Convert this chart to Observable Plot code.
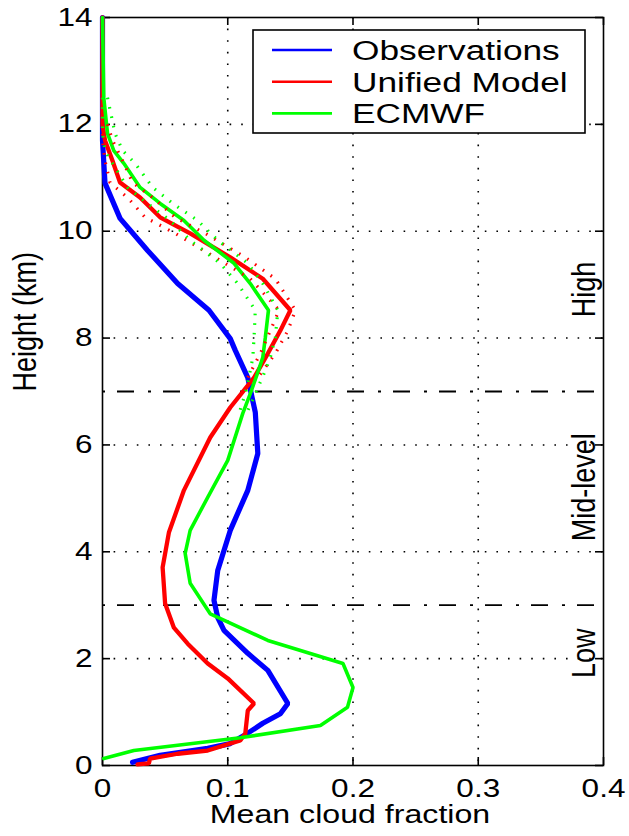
<!DOCTYPE html>
<html>
<head>
<meta charset="utf-8">
<script src="https://cdn.jsdelivr.net/npm/d3@7"></script>
<script src="https://cdn.jsdelivr.net/npm/@observablehq/plot@0.6"></script>
<style>
  html, body { margin: 0; padding: 0; background: #fff; }
  #chart { width: 629px; height: 836px; overflow: hidden; }
</style>
</head>
<body>
<div id="chart"></div>
<script>
// ---------- data ----------
const seriesNames = ["Observations", "Unified Model", "ECMWF"];
const seriesColors = ["#0000ff", "#ff0000", "#00ff00"];

const obsHeight = [14.0, 12.0, 11.7, 10.9, 10.24, 9.64, 9.02, 8.52, 7.99, 7.77, 7.26, 6.61, 5.84, 5.15, 4.40, 3.65, 3.09, 2.77, 2.53, 2.10, 1.78, 1.16, 0.97, 0.79, 0.56, 0.41, 0.32, 0.19, 0.06];
const obsFraction = [0.000, 0.000, 0.000, 0.002, 0.014, 0.036, 0.060, 0.085, 0.102, 0.106, 0.116, 0.122, 0.124, 0.116, 0.102, 0.092, 0.089, 0.092, 0.097, 0.116, 0.132, 0.148, 0.142, 0.128, 0.113, 0.102, 0.084, 0.046, 0.024];

const ukmoHeight = [14.0, 12.0, 11.7, 11.32, 10.91, 10.63, 10.26, 9.96, 9.51, 9.11, 8.52, 8.14, 7.71, 7.26, 6.70, 6.14, 5.15, 4.36, 3.71, 3.03, 2.58, 2.28, 1.91, 1.63, 1.16, 1.03, 0.60, 0.47, 0.28, 0.22, 0.13, 0.04, 0.02];
const ukmoFraction = [0.000, 0.000, 0.002, 0.008, 0.014, 0.030, 0.046, 0.070, 0.102, 0.128, 0.150, 0.142, 0.132, 0.121, 0.102, 0.086, 0.065, 0.053, 0.048, 0.050, 0.057, 0.068, 0.084, 0.100, 0.121, 0.116, 0.114, 0.110, 0.084, 0.060, 0.038, 0.037, 0.028];

const ecmwfHeight = [14.0, 12.5, 11.83, 11.51, 11.27, 10.82, 10.52, 10.20, 9.83, 9.40, 9.02, 8.52, 8.01, 7.64, 7.39, 6.96, 6.59, 5.71, 5.02, 4.40, 3.97, 3.41, 2.84, 2.34, 1.91, 1.46, 1.09, 0.75, 0.52, 0.28, 0.13];
const ecmwfFraction = [0.000, 0.001, 0.004, 0.009, 0.017, 0.030, 0.046, 0.065, 0.081, 0.105, 0.118, 0.1325, 0.130, 0.128, 0.1245, 0.118, 0.112, 0.100, 0.084, 0.070, 0.066, 0.070, 0.086, 0.132, 0.192, 0.200, 0.1956, 0.174, 0.110, 0.025, 0.001];

// uncertainty bounds (dotted) for the two models, upper troposphere
const ukmoErrHeight = [12.0, 11.7, 11.32, 10.91, 10.63, 10.26, 9.96, 9.51, 9.11, 8.52, 8.14, 7.71, 7.26];
const ukmoLow  = [0.000, 0.000, 0.002, 0.006, 0.020, 0.034, 0.058, 0.090, 0.118, 0.141, 0.134, 0.126, 0.116];
const ukmoHigh = [0.004, 0.008, 0.016, 0.024, 0.040, 0.058, 0.082, 0.114, 0.138, 0.154, 0.148, 0.138, 0.124];

const ecmwfErrHeight = [12.5, 11.83, 11.51, 11.27, 10.82, 10.52, 10.20, 9.83, 9.40, 9.02, 8.52, 8.01, 7.64, 7.39, 6.96, 6.59];
const ecmwfLow  = [0.000, 0.000, 0.002, 0.008, 0.020, 0.036, 0.054, 0.070, 0.094, 0.108, 0.122, 0.121, 0.120, 0.118, 0.114, 0.109];
const ecmwfHigh = [0.004, 0.010, 0.016, 0.026, 0.040, 0.056, 0.076, 0.092, 0.116, 0.128, 0.140, 0.138, 0.134, 0.130, 0.122, 0.115];

// layer boundaries and labels
const layerBounds = [3, 7];
const regionLabels = ["High", "Mid-level", "Low"];
const regionHeights = [8.91, 5.21, 2.10];

// ticks
const xTickValues = [0, 0.1, 0.2, 0.3, 0.4];
const xTickLabels = ["0", "0.1", "0.2", "0.3", "0.4"];
const yTickValues = [0, 2, 4, 6, 8, 10, 12, 14];
const yTickLabels = ["0", "2", "4", "6", "8", "10", "12", "14"];
const xGridValues = [0.1, 0.2, 0.3];
const yGridValues = [2, 4, 6, 8, 10, 12];

const xLabel = "Mean cloud fraction";
const yLabel = "Height (km)";

// ---------- layout ----------
const W = 629, H = 836;
const mL = 102, mR = 26, mT = 17, mB = 71;
const innerW = W - mL - mR, innerH = H - mT - mB;
const TICK = 8;
const STRETCH = 1.26;
const FONT = "'Liberation Sans', Arial, Helvetica, sans-serif";

const toRows = (hs, xs) => hs.map((h, i) => ({h, x: xs[i]}));
const obs = toRows(obsHeight, obsFraction);
const ukmo = toRows(ukmoHeight, ukmoFraction);
const ecmwf = toRows(ecmwfHeight, ecmwfFraction);
const ukmoLo = toRows(ukmoErrHeight, ukmoLow), ukmoHi = toRows(ukmoErrHeight, ukmoHigh);
const ecLo = toRows(ecmwfErrHeight, ecmwfLow), ecHi = toRows(ecmwfErrHeight, ecmwfHigh);

const dotted = (data, color) => Plot.line(data, {
  x: "x", y: "h", stroke: color, strokeWidth: 3.2, strokeDasharray: "1.6,8",
  strokeLinecap: "butt", curve: "linear"
});

const plot = Plot.plot({
  width: W, height: H,
  marginLeft: mL, marginRight: mR, marginTop: mT, marginBottom: mB,
  x: {domain: [0, 0.4], label: null},
  y: {domain: [0, 14], label: null},
  style: {fontFamily: FONT, background: "#fff", color: "#000"},
  marks: [
    Plot.gridX(xGridValues, {stroke: "#000", strokeOpacity: 1, strokeWidth: 1.6, strokeDasharray: "1.6,10"}),
    Plot.gridY(yGridValues, {stroke: "#000", strokeOpacity: 1, strokeWidth: 1.6, strokeDasharray: "1.6,10"}),
    Plot.ruleY(layerBounds, {stroke: "#000", strokeWidth: 1.8, strokeDasharray: "17,14,3,12", strokeDashoffset: 31}),
    Plot.frame({stroke: "#000", strokeWidth: 1.6}),
    // inward ticks on all four sides
    Plot.tickX(xTickValues, {x: d => d, stroke: "#000", strokeWidth: 1.6, insetTop: innerH - TICK}),
    Plot.tickX(xTickValues, {x: d => d, stroke: "#000", strokeWidth: 1.6, insetBottom: innerH - TICK}),
    Plot.tickY(yTickValues, {y: d => d, stroke: "#000", strokeWidth: 1.6, insetRight: innerW - TICK}),
    Plot.tickY(yTickValues, {y: d => d, stroke: "#000", strokeWidth: 1.6, insetLeft: innerW - TICK}),
    // tick labels
    Plot.axisX(xTickValues, {anchor: "bottom", tickSize: 0, tickPadding: 14, fontSize: 25,
      tickFormat: d => xTickLabels[xTickValues.indexOf(d)], label: null}),
    Plot.axisY(yTickValues, {anchor: "left", tickSize: 0, tickPadding: 10, fontSize: 25,
      tickFormat: d => yTickLabels[yTickValues.indexOf(d)], label: null}),
    // series
    Plot.line(obs, {x: "x", y: "h", stroke: seriesColors[0], strokeWidth: 5.2, strokeLinejoin: "miter"}),
    Plot.line(ukmo, {x: "x", y: "h", stroke: seriesColors[1], strokeWidth: 4.3, strokeLinejoin: "miter"}),
    Plot.line(ecmwf, {x: "x", y: "h", stroke: seriesColors[2], strokeWidth: 3.6, strokeLinejoin: "miter"}),
    dotted(ukmoLo, seriesColors[1]), dotted(ukmoHi, seriesColors[1]),
    dotted(ecLo, seriesColors[2]), dotted(ecHi, seriesColors[2]),
    // layer names
    Plot.text(regionLabels, {y: (d, i) => regionHeights[i], text: d => d, frameAnchor: "right",
      dx: -19, rotate: -90, fontSize: 27, fill: "#000", textAnchor: "middle", lineAnchor: "middle"}),
    // axis titles
    Plot.text([xLabel], {frameAnchor: "bottom", dy: 49, dx: -3, fontSize: 25.5, fill: "#000", lineAnchor: "middle"}),
    Plot.text([yLabel], {frameAnchor: "left", dx: -77, rotate: -90, fontSize: 27, fill: "#000", lineAnchor: "middle"})
  ]
});

// ---------- legend (inside the axes, top right) ----------
const svg = d3.select(plot);
const lg = svg.append("g").attr("font-family", FONT).attr("text-anchor", "start");
const box = {x: 253, y: 30, w: 332, h: 103};
lg.append("rect").attr("x", box.x).attr("y", box.y).attr("width", box.w).attr("height", box.h)
  .attr("fill", "#fff").attr("stroke", "#000").attr("stroke-width", 1.6);
seriesNames.forEach((name, i) => {
  const cy = 50 + i * 31.7;
  lg.append("line").attr("x1", 272).attr("x2", 332).attr("y1", cy).attr("y2", cy)
    .attr("stroke", seriesColors[i]).attr("stroke-width", 2.6);
  lg.append("text").attr("transform", `translate(352,${cy})`).attr("dy", "0.35em")
    .attr("text-anchor", "start").attr("font-size", 28).attr("fill", "#000").text(name);
});

// horizontally widen every text, as in the (stretched) reference
plot.querySelectorAll("text").forEach(t => {
  const tr = t.getAttribute("transform");
  if (tr && /^translate\([^)]*\)/.test(tr)) {
    t.setAttribute("transform", tr.replace(/^(translate\([^)]*\))/, `$1 scale(${STRETCH},1)`));
  } else if (!tr) {
    const x = +t.getAttribute("x") || 0, y = +t.getAttribute("y") || 0;
    t.removeAttribute("x"); t.removeAttribute("y");
    t.setAttribute("transform", `translate(${x},${y}) scale(${STRETCH},1)`);
  }
});

document.getElementById("chart").appendChild(plot);
</script>
</body>
</html>
